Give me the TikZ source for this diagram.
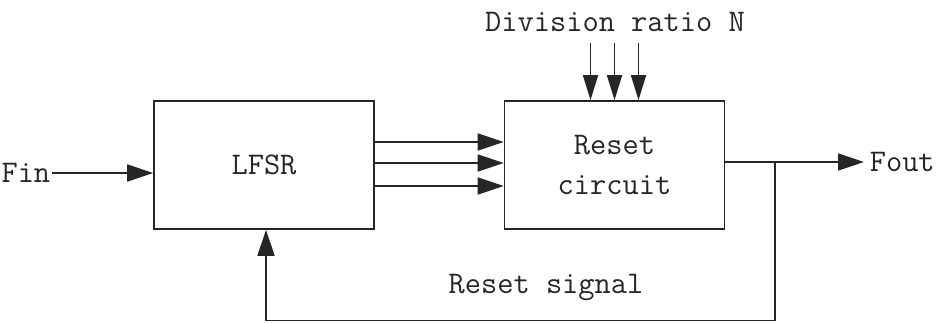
\documentclass[tikz,border=0pt]{standalone}
\usetikzlibrary{arrows.meta}

\begin{document}
\begin{tikzpicture}[x=1pt, y=1pt, line width=1.6pt, color=black!85,
    font=\ttfamily\fontsize{31.5}{40}\selectfont,
    block/.style={draw, minimum width=220pt, minimum height=128pt, inner sep=0pt},
    sig/.style={-{Triangle[length=26pt, width=17pt]}},
    sigdown/.style={-{Triangle[length=25pt, width=15pt]}}]
    \useasboundingbox (0,0) rectangle (937,322);

    % Blocks
    \node[block] (lfsr) at (264,157) {LFSR};
    \node[block, align=center] (reset) at (614.5,157) {Reset\\circuit};

    % Input
    \node[anchor=east, inner sep=1pt] (fin) at (52,149) {Fin};
    \draw[sig] (fin.east) -- (fin.east -| lfsr.west);

    % LFSR state bits
    \foreach \dy in {23,2,-21}
        \draw[sig] ([yshift=\dy]lfsr.east) -- ([yshift=\dy]reset.west);

    % Division ratio
    \node[anchor=base, inner xsep=2pt, inner ysep=10pt] (ratio) at (615,290) {Division ratio N};
    \foreach \dx in {-24,0,24}
        \draw[sigdown] ([xshift=\dx]reset.north |- ratio.south) -- ([xshift=\dx]reset.north);

    % Output
    \node[anchor=west, inner xsep=5pt, inner ysep=0pt] (fout) at (864,160) {Fout};
    \draw[sig] ([yshift=3]reset.east) -- (fout.west);

    % Feedback
    \coordinate (tap) at (775,160);
    \coordinate (loop) at (775,1.5);
    \draw[sig] (tap) -- (loop) -| ([xshift=2]lfsr.south);
    \node[anchor=base] (label) at (546,29) {Reset signal};

\end{tikzpicture}
\end{document}
